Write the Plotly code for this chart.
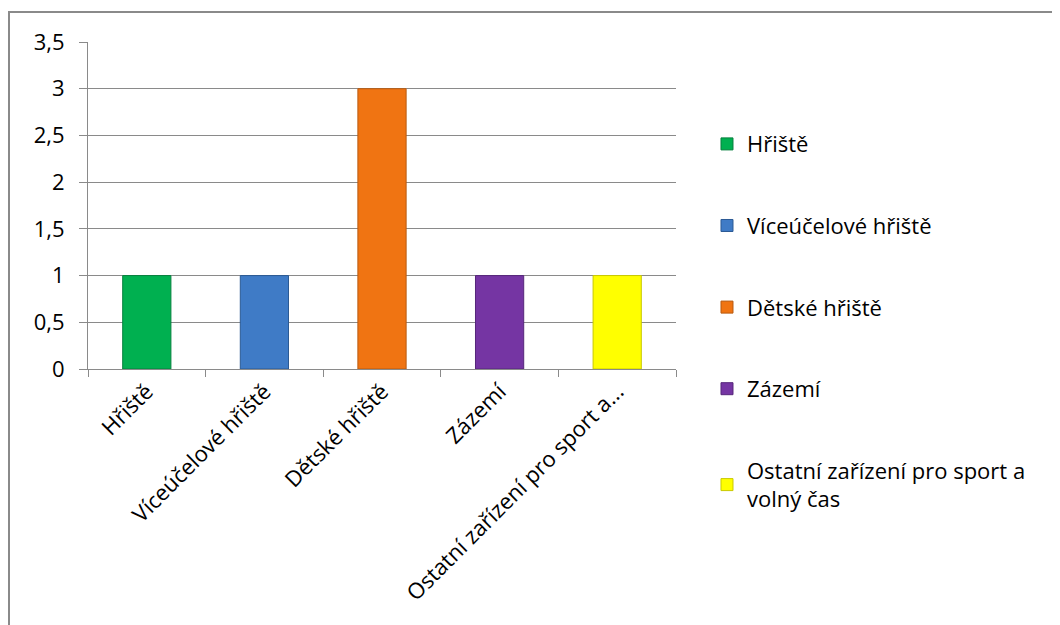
import plotly.graph_objects as go

categories = ["Hřiště", "Víceúčelové hřiště", "Dětské hřiště", "Zázemí",
              "Ostatní zařízení pro sport a volný čas"]
values = [1, 1, 3, 1, 1]
tick_labels = ["Hřiště", "Víceúčelové hřiště", "Dětské hřiště", "Zázemí",
               "Ostatní zařízení pro sport a..."]
legend_names = ["Hřiště", "Víceúčelové hřiště", "Dětské hřiště", "Zázemí",
                "Ostatní zařízení pro sport a<br>volný čas"]
colors = ["#00B050", "#3F7BC6", "#F07412", "#7535A3", "#FFFF00"]
outlines = ["#07803e", "#2b5a94", "#b85a10", "#56267a", "#c9c900"]

FONT = "Open Sans"
FS = 22

fig = go.Figure()
for i, cat in enumerate(categories):
    fig.add_trace(go.Bar(
        x=[cat], y=[values[i]], name=legend_names[i],
        legendgroup=f"g{i}",
        marker=dict(color=colors[i], line=dict(color=outlines[i], width=1)),
    ))

fig.update_layout(
    width=1052, height=617,
    margin=dict(l=80, r=384, t=34, b=256),
    paper_bgcolor="white", plot_bgcolor="white",
    barmode="overlay", bargap=0.59,
    separators=", ",
    font=dict(family=FONT, size=FS, color="#000000"),
    showlegend=True,
    legend=dict(
        x=1.0527, xanchor="left", y=0.752, yanchor="top",
        traceorder="grouped", tracegroupgap=50, maxheight=600,
        font=dict(family=FONT, size=FS, color="#000000"),
        bgcolor="rgba(0,0,0,0)", borderwidth=0,
    ),
    shapes=[dict(
        type="rect", xref="paper", yref="paper",
        x0=(9 - 88) / 588, x1=1.0 + (1080 - 676) / 588,
        y0=-1.2, y1=(369 - 12) / 327,
        line=dict(color="#8a8a8a", width=2), fillcolor="rgba(0,0,0,0)",
        layer="below",
    )],
)

fig.update_xaxes(
    type="category", categoryorder="array", categoryarray=categories,
    tickmode="array", tickvals=categories, ticktext=tick_labels,
    tickangle=-45, tickson="boundaries", ticks="outside", ticklen=7,
    tickcolor="#8a8a8a", showline=True, linecolor="#8a8a8a", linewidth=1,
    showgrid=False, tickfont=dict(family=FONT, size=FS, color="#000000"),
)
fig.update_yaxes(
    range=[0, 3.5], dtick=0.5, tick0=0,
    ticks="outside", ticklen=8, tickcolor="#8a8a8a",
    ticklabelstandoff=10,
    showline=True, linecolor="#8a8a8a", linewidth=1,
    showgrid=True, gridcolor="#8a8a8a", gridwidth=1,
    zeroline=False,
    tickfont=dict(family=FONT, size=FS, color="#000000"),
)

fig.write_html("out.html")
